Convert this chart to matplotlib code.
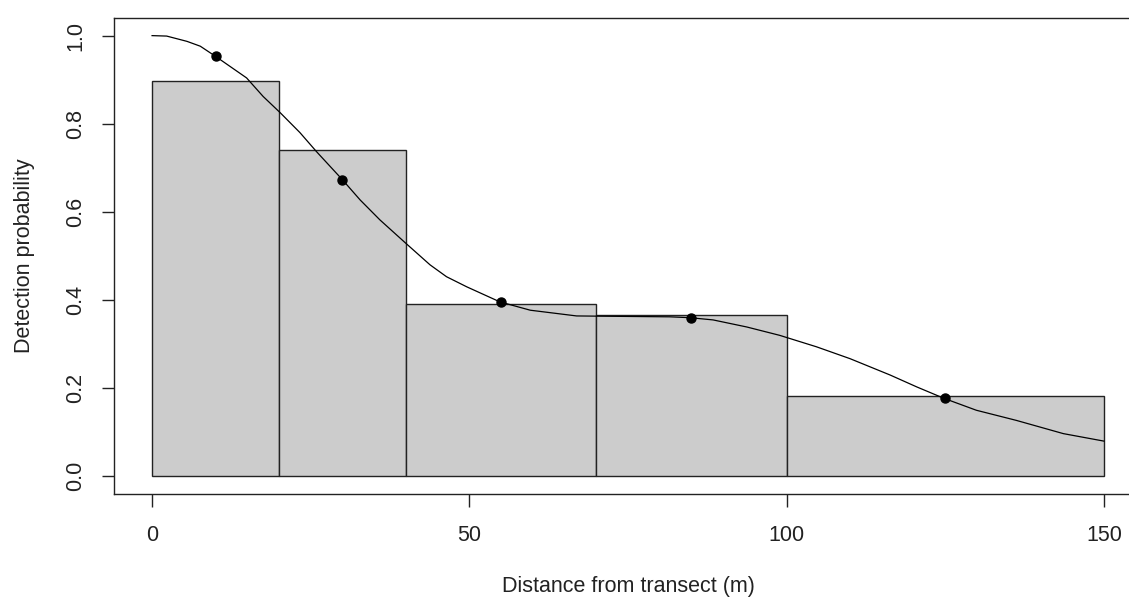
import numpy as np
import matplotlib
matplotlib.use("Agg")
import matplotlib.pyplot as plt

plt.rcParams['font.family'] = ['Liberation Sans', 'DejaVu Sans']

# histogram of scaled detections
bin_edges = [0, 20, 40, 70, 100, 150]
bin_heights = [0.898, 0.740, 0.391, 0.366, 0.183]

# fitted detection function
curve_x = [0, 2.3, 5.5, 7.6, 10, 14.9, 17.5, 20.2, 23.3, 25.9, 30, 32.8, 35.9,
           39.9, 43.8, 46.4, 49.6, 54.8, 59.6, 66.9, 74.0, 81.6, 84.8, 88.4,
           93.7, 98.9, 104.7, 110.0, 116.3, 120.5, 124.8, 129.9, 136.2, 143.6, 150]
curve_y = [1.0, 0.999, 0.987, 0.976, 0.953, 0.904, 0.862, 0.825, 0.780, 0.737,
           0.673, 0.627, 0.582, 0.530, 0.480, 0.453, 0.430, 0.396, 0.377, 0.364,
           0.363, 0.362, 0.360, 0.355, 0.339, 0.320, 0.294, 0.267, 0.230, 0.203,
           0.177, 0.150, 0.127, 0.097, 0.080]

# fitted values at bin midpoints
point_x = [10, 30, 55, 85, 125]
point_y = [0.953, 0.673, 0.396, 0.360, 0.177]

fig = plt.figure(figsize=(11.29, 5.99), dpi=100)
W, H = 1129.0, 599.0
left, right, top, bottom = 114, 1142, 18, 494
ax = fig.add_axes([left / W, 1 - bottom / H, (right - left) / W, (bottom - top) / H])

widths = np.diff(bin_edges)
ax.bar(bin_edges[:-1], bin_heights, width=widths, align='edge',
       color='#cccccc', edgecolor='#222222', linewidth=1.0)
ax.plot(curve_x, curve_y, color='black', linewidth=0.9)
ax.plot(point_x, point_y, 'o', color='black', markersize=6.5)

ax.set_xlim(-6, 156)
ax.set_ylim(-0.04, 1.04)
ax.set_xticks([0, 50, 100, 150])
ax.set_yticks([0.0, 0.2, 0.4, 0.6, 0.8, 1.0])
ax.set_yticklabels(['0.0', '0.2', '0.4', '0.6', '0.8', '1.0'], rotation=90, va='center')

for s in ax.spines.values():
    s.set_color('#222222')
    s.set_linewidth(1.0)

ax.tick_params(axis='both', length=9, width=1.0, color='#222222', labelsize=15.5,
               labelcolor='#222222')
ax.tick_params(axis='x', pad=13)
ax.tick_params(axis='y', pad=11)

ax.set_xlabel('Distance from transect (m)', fontsize=15.5, color='#222222', labelpad=22)
ax.set_ylabel('Detection probability', fontsize=15.5, color='#222222', labelpad=22)

fig.savefig('out.png', dpi=100)
